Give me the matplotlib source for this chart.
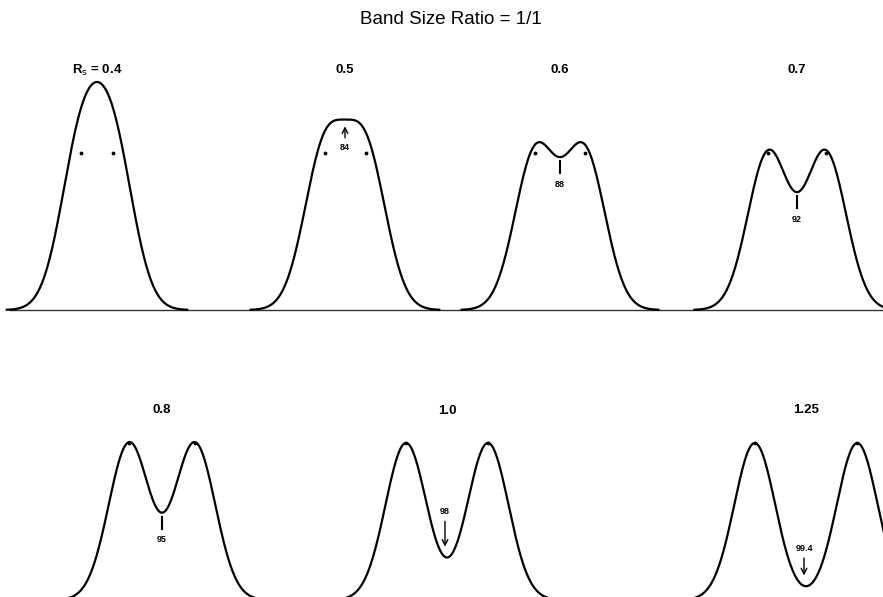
import numpy as np
import matplotlib
matplotlib.use("Agg")
import matplotlib.pyplot as plt

# Resolution values and purity (%) at the valley for each panel
resolution = [0.4, 0.5, 0.6, 0.7, 0.8, 1.0, 1.25]
purity = ["", "84", "88", "92", "95", "98", "99.4"]
panel_labels = [r"R$_\mathsf{s}$ = 0.4", "0.5", "0.6", "0.7", "0.8", "1.0", "1.25"]

# layout (figure pixel coordinates)
centers = [97, 345, 560, 797, 162, 447, 806]
baselines = [310, 310, 310, 310, 600, 600, 600]
label_y = [70, 70, 70, 70, 410, 411, 410]
note_style = [None, "up", "below", "below", "below", "above", "above"]
sigma = 20.5
height = 157

plt.rcParams['font.family'] = ['Liberation Sans', 'DejaVu Sans']
fig = plt.figure(figsize=(8.83, 5.97), dpi=100)
ax = fig.add_axes([0, 0, 1, 1])
ax.set_xlim(0, 883)
ax.set_ylim(597, 0)
ax.axis('off')

fig.text(0.511, 0.967, "Band Size Ratio = 1/1", ha='center', va='center', fontsize=13.5)

# baseline of the top row
ax.plot([10, 883], [310, 310], color='#333333', lw=1.0)

for rs, pur, lab, cx, base, ly, style in zip(resolution, purity, panel_labels,
                                              centers, baselines, label_y, note_style):
    d = 4 * sigma * rs
    x = np.linspace(cx - d / 2 - 3.6 * sigma, cx + d / 2 + 3.6 * sigma, 400)
    g1 = np.exp(-(x - (cx - d / 2)) ** 2 / (2 * sigma ** 2))
    g2 = np.exp(-(x - (cx + d / 2)) ** 2 / (2 * sigma ** 2))
    y = base - height * (g1 + g2)
    ax.plot(x, y, color='black', lw=1.6)
    ax.plot([cx - d / 2, cx + d / 2], [base - height] * 2, 'k.', ms=3.5)
    ax.text(cx, ly, lab, ha='center', va='center', fontsize=9.5, fontweight='bold')

    valley = base - height * 2 * np.exp(-(d / 2) ** 2 / (2 * sigma ** 2))
    if style == "up":
        ax.annotate("", xy=(cx, valley + 4), xytext=(cx, valley + 21),
                    arrowprops=dict(arrowstyle='->', lw=1.0, color='black'))
        ax.text(cx, valley + 28, pur, ha='center', va='center', fontsize=6.5, fontweight='bold')
    elif style == "below":
        ax.plot([cx, cx], [valley + 4, valley + 16], color='black', lw=1.5)
        ax.text(cx, valley + 27, pur, ha='center', va='center', fontsize=6.5, fontweight='bold')
    elif style == "above":
        off = 46 if rs < 1.1 else 38
        ax.text(cx - 2, valley - off, pur, ha='center', va='center', fontsize=6.5, fontweight='bold')
        ax.annotate("", xy=(cx - 2, valley - 8), xytext=(cx - 2, valley - off + 7),
                    arrowprops=dict(arrowstyle='->', lw=1.0, color='black'))

fig.savefig("out.png", dpi=100, facecolor='white')
